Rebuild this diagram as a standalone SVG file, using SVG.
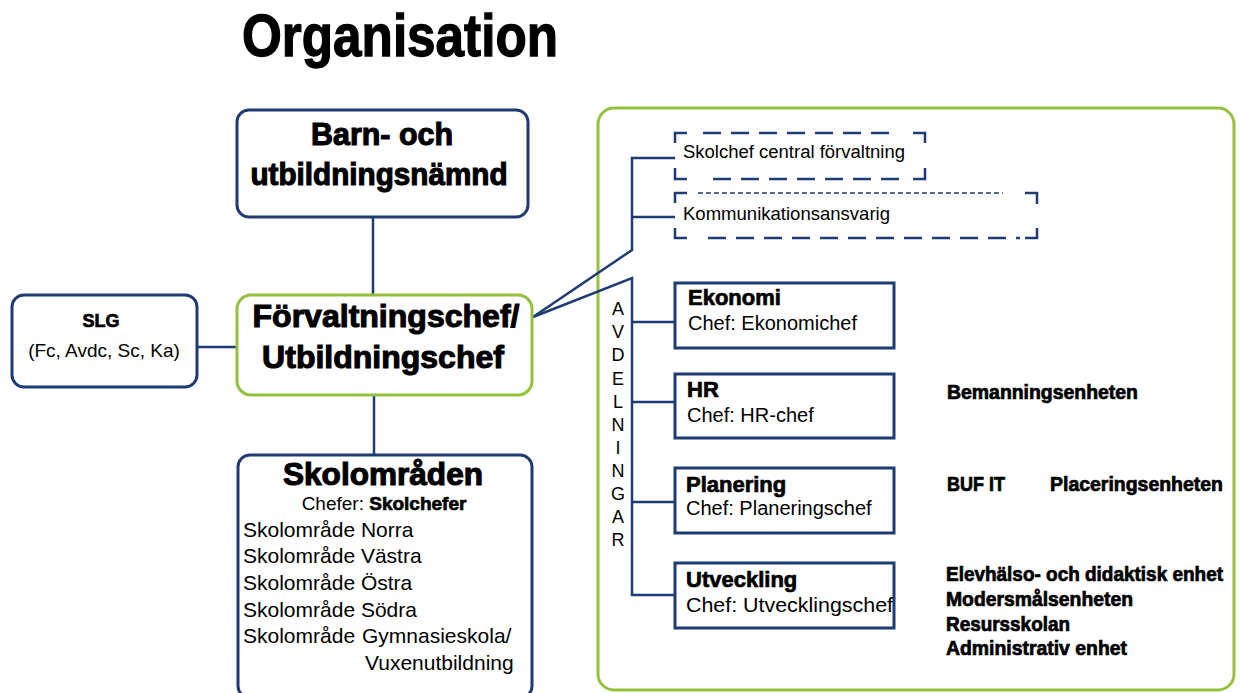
<svg xmlns="http://www.w3.org/2000/svg" width="1240" height="693" viewBox="0 0 1240 693">
<defs>
<style>
text{font-family:"Liberation Sans",Arial,sans-serif;fill:#000}
.heavy{font-weight:bold;stroke:#000;stroke-width:0.7}
.big{stroke-width:1.1}
.navybox{fill:#fff;stroke:#1f3b73;stroke-width:3}
.greenbox{fill:#fff;stroke:#93c13e;stroke-width:3}
.conn{fill:none;stroke:#1f3b73;stroke-width:2.5}
.dash{fill:none;stroke:#1f3b73;stroke-width:2.5}
.reg{font-size:21px}
.sub{font-size:20px}
.unit{font-size:19.5px}
.avd{font-size:18px}
</style>
</defs>
<rect width="1240" height="693" fill="#fff"/>
<text class="heavy big" transform="translate(242,56) scale(1,1.15)" font-size="51" stroke-width="1.6" textLength="316" lengthAdjust="spacingAndGlyphs">Organisation</text>

<g id="frame">
<rect class="greenbox" x="598" y="108" width="636" height="582" rx="16"/>
</g>

<g id="connectors">
<line class="conn" x1="373" y1="217" x2="373" y2="295"/>
<line class="conn" x1="374" y1="395" x2="374" y2="455"/>
<line class="conn" x1="197" y1="347" x2="237" y2="347"/>
<polyline class="conn" points="533,317 632,250 632,158 675,158"/>
<line class="conn" x1="632" y1="217" x2="675" y2="217"/>
<polyline class="conn" points="533,317 632,278 632,595 675,595"/>
<line class="conn" x1="632" y1="322" x2="675" y2="322"/>
<line class="conn" x1="632" y1="402" x2="675" y2="402"/>
<line class="conn" x1="632" y1="502" x2="675" y2="502"/>
</g>

<g id="barn">
<rect class="navybox" x="237" y="110" width="291" height="107" rx="12"/>
<text class="heavy big" x="382" y="145" font-size="31" text-anchor="middle" textLength="142" lengthAdjust="spacingAndGlyphs">Barn- och</text>
<text class="heavy big" x="379" y="185" font-size="31" text-anchor="middle" textLength="257" lengthAdjust="spacingAndGlyphs">utbildningsnämnd</text>
</g>

<g id="slg">
<rect class="navybox" x="12" y="295" width="185" height="92" rx="12"/>
<text class="heavy" x="101" y="327" font-size="18" text-anchor="middle">SLG</text>
<text x="104" y="357" font-size="19" text-anchor="middle">(Fc, Avdc, Sc, Ka)</text>
</g>

<g id="forvaltningschef">
<rect class="greenbox" x="237" y="295" width="295" height="100" rx="14"/>
<text class="heavy big" x="386" y="327" font-size="32" text-anchor="middle" textLength="267" lengthAdjust="spacingAndGlyphs">Förvaltningschef/</text>
<text class="heavy big" x="383" y="368" font-size="32" text-anchor="middle">Utbildningschef</text>
</g>

<g id="skolomraden">
<rect class="navybox" x="238" y="455" width="294" height="243" rx="12"/>
<text class="heavy big" x="383" y="485" font-size="31" text-anchor="middle" textLength="200" lengthAdjust="spacingAndGlyphs">Skolområden</text>
<text x="384" y="510" font-size="19" text-anchor="middle">Chefer: <tspan class="heavy">Skolchefer</tspan></text>
<text class="reg" x="243" y="537" font-size="21.5">Skolområde Norra</text>
<text class="reg" x="243" y="563" font-size="21.5">Skolområde Västra</text>
<text class="reg" x="243" y="590" font-size="21.5">Skolområde Östra</text>
<text class="reg" x="243" y="617" font-size="21.5">Skolområde Södra</text>
<text class="reg" x="243" y="643" font-size="21.5">Skolområde<tspan x="362">Gymnasieskola/</tspan></text>
<text class="reg" x="365" y="670" font-size="21.5">Vuxenutbildning</text>
</g>

<g id="skolchef-central">
<path class="dash" d="M675,143 V133 H687 M913,133 H925 V143 M675,168 V179 H687 M913,179 H925 V168"/>
<line class="dash" x1="703" y1="133" x2="895" y2="133" stroke-dasharray="18,10"/>
<line class="dash" x1="713" y1="179" x2="900" y2="179" stroke-dasharray="18,10"/>
<text x="683" y="158" font-size="18" textLength="222" lengthAdjust="spacingAndGlyphs">Skolchef central förvaltning</text>
</g>

<g id="kommunikation">
<path class="dash" d="M675,203 V193 H687 M1025,193 H1037 V204 M675,228 V238 H687 M1025,238 H1037 V228"/>
<line x1="698" y1="193" x2="1003" y2="193" stroke="#1f3b73" stroke-width="1.6" stroke-dasharray="5,3"/>
<line class="dash" x1="708" y1="238" x2="1020" y2="238" stroke-dasharray="18,10"/>
<text x="683" y="220" font-size="18.5" textLength="207" lengthAdjust="spacingAndGlyphs">Kommunikationsansvarig</text>
</g>

<g id="avdelningar">
<text class="avd" x="618" y="315" text-anchor="middle">A</text>
<text class="avd" x="618" y="338" text-anchor="middle">V</text>
<text class="avd" x="618" y="361" text-anchor="middle">D</text>
<text class="avd" x="618" y="385" text-anchor="middle">E</text>
<text class="avd" x="618" y="408" text-anchor="middle">L</text>
<text class="avd" x="618" y="431" text-anchor="middle">N</text>
<text class="avd" x="618" y="454" text-anchor="middle">I</text>
<text class="avd" x="618" y="477" text-anchor="middle">N</text>
<text class="avd" x="618" y="500" text-anchor="middle">G</text>
<text class="avd" x="618" y="523" text-anchor="middle">A</text>
<text class="avd" x="618" y="546" text-anchor="middle">R</text>
</g>

<g id="ekonomi">
<rect class="navybox" x="675" y="283" width="219" height="65"/>
<text class="heavy" x="688" y="305" font-size="22" stroke-width="0.9">Ekonomi</text>
<text class="sub" x="688" y="330" font-size="21">Chef: Ekonomichef</text>
</g>

<g id="hr">
<rect class="navybox" x="675" y="374" width="219" height="64"/>
<text class="heavy" x="687" y="397" font-size="22" stroke-width="0.9">HR</text>
<text class="sub" x="687" y="422" font-size="21">Chef: HR-chef</text>
</g>

<g id="planering">
<rect class="navybox" x="675" y="468" width="219" height="65"/>
<text class="heavy" x="686" y="492" font-size="22" stroke-width="0.9">Planering</text>
<text class="sub" x="686" y="515" font-size="21">Chef: Planeringschef</text>
</g>

<g id="utveckling">
<rect class="navybox" x="675" y="563" width="219" height="65"/>
<text class="heavy" x="686" y="587" font-size="22" stroke-width="0.9">Utveckling</text>
<text class="sub" x="686" y="612" font-size="21" textLength="207" lengthAdjust="spacingAndGlyphs">Chef: Utvecklingschef</text>
</g>

<g id="enheter">
<text class="heavy unit" x="947" y="399" textLength="191" lengthAdjust="spacingAndGlyphs">Bemanningsenheten</text>
<text class="heavy unit" x="947" y="491" textLength="58" lengthAdjust="spacingAndGlyphs">BUF IT</text>
<text class="heavy unit" x="1050" y="491" textLength="173" lengthAdjust="spacingAndGlyphs">Placeringsenheten</text>
<text class="heavy unit" x="946" y="581" textLength="277" lengthAdjust="spacingAndGlyphs">Elevhälso- och didaktisk enhet</text>
<text class="heavy unit" x="946" y="606" textLength="187" lengthAdjust="spacingAndGlyphs">Modersmålsenheten</text>
<text class="heavy unit" x="946" y="631" textLength="124" lengthAdjust="spacingAndGlyphs">Resursskolan</text>
<text class="heavy unit" x="946" y="655" textLength="181" lengthAdjust="spacingAndGlyphs">Administrativ enhet</text>
</g>
</svg>
